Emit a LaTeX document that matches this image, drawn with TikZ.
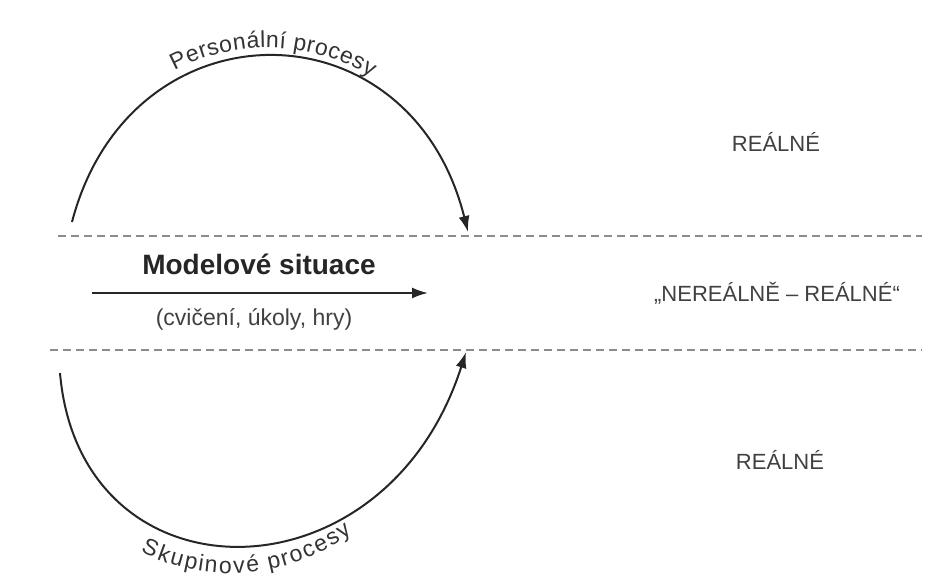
\documentclass[tikz,border=0pt]{standalone}
\usepackage{fontspec}
\setmainfont{Liberation Sans}
\usetikzlibrary{arrows.meta,decorations.text}

\begin{document}
\begin{tikzpicture}[x=0.5pt,y=0.5pt,
    proc/.style={line width=1pt, draw=black!85, -{Latex[length=8pt,width=5.5pt]}},
    border/.style={dash pattern=on 4pt off 2.5pt, draw=black!45, line width=0.7pt},
    zone/.style={text=black!75, font=\fontsize{11}{13}\selectfont}]
    \useasboundingbox (0,0) rectangle (928,587);
    \coordinate (top-l) at (58,351); \coordinate (top-r) at (922,351); % upper border
    \coordinate (bot-l) at (50,237); \coordinate (bot-r) at (922,237); % lower border
    \draw[border] (top-l) -- (top-r);
    \draw[border] (bot-l) -- (bot-r);
    \coordinate (pers-a) at (72,365); \coordinate (pers-b) at (468,355); % upper arc ends
    \draw[proc] (pers-a) .. controls (130,587) and (410,587) .. (pers-b); % personal
    \path[decorate, decoration={text along path, text align=center, raise=4.5pt,
        text={|\fontsize{11.5}{13}\selectfont\color{black!80}|Personální procesy}}]
        (pers-a) .. controls (130,587) and (410,587) .. (pers-b);
    \coordinate (grp-a) at (60,214); \coordinate (grp-b) at (466,235); % lower arc ends
    \draw[proc] (grp-a) .. controls (80,-19) and (385,-19) .. (grp-b); % group
    \path[decorate, decoration={text along path, text align=center, raise=-14pt,
        text={|\fontsize{11.5}{13}\selectfont\color{black!80}|Skupinové procesy}}]
        (grp-a) .. controls (80,-19) and (385,-19) .. ([xshift=-20]grp-b);
    \coordinate (ms-l) at (92,294); \coordinate (ms-r) at (428,294); % middle arrow
    \draw[proc] (ms-l) -- (ms-r);
    \node[text=black!85, font=\fontsize{14}{16}\selectfont\bfseries] (model) at (259,323) {Modelové situace};
    \node[text=black!75, font=\fontsize{11.5}{13}\selectfont] (exer) at (254,268) {(cvičení, úkoly, hry)};
    \node[zone] (real-up) at (776,445) {REÁLNÉ};
    \node[zone] (unreal) at (777,294) {„NEREÁLNĚ – REÁLNÉ“};
    \node[zone] (real-down) at (780,127) {REÁLNÉ};
\end{tikzpicture}
\end{document}
